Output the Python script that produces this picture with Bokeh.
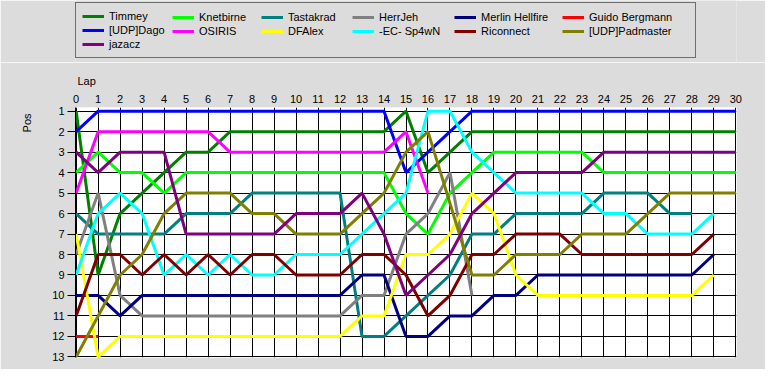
from bokeh.plotting import figure
from bokeh.models import Range1d, FixedTicker, Legend, LegendItem, Title
from bokeh.layouts import column
from bokeh.embed import file_html
from bokeh.resources import INLINE

laps = list(range(31))
pos_ticks = list(range(1, 14))

drivers = ["Timmey", "Knetbirne", "Tastakrad", "HerrJeh", "Merlin Hellfire", "Guido Bergmann",
           "[UDP]Dago", "OSIRIS", "DFAlex", "-EC- Sp4wN", "Riconnect", "[UDP]Padmaster", "jazacz"]
colors = ["#008000", "#00ff00", "#008080", "#808080", "#000080", "#ff0000",
          "#0000ff", "#ff00ff", "#ffff00", "#00ffff", "#800000", "#808000", "#800080"]

timmey = [1, 9, 6, 5, 4, 3, 3, 2, 2, 2, 2, 2, 2, 2, 2, 1, 4, 3, 2, 2, 2, 2, 2, 2, 2, 2, 2, 2, 2, 2, 2]
knetbirne = [4, 3, 4, 4, 5, 4, 4, 4, 4, 4, 4, 4, 4, 4, 4, 6, 7, 5, 4, 3, 3, 3, 3, 3, 4, 4, 4, 4, 4, 4, 4]
tastakrad = [6, 7, 7, 7, 7, 6, 6, 6, 5, 5, 5, 5, 5, 12, 12, 11, 10, 9, 7, 7, 6, 6, 6, 6, 5, 5, 5, 6, 6]
herrjeh = [8, 5, 10, 11, 11, 11, 11, 11, 11, 11, 11, 11, 11, 10, 10, 7, 6, 4, 10]
merlin = [10, 10, 11, 10, 10, 10, 10, 10, 10, 10, 10, 10, 10, 9, 9, 12, 12, 11, 11, 10, 10, 9, 9, 9, 9, 9, 9, 9, 9, 8]
guido = [12, 12]
dago = [2, 1, 1, 1, 1, 1, 1, 1, 1, 1, 1, 1, 1, 1, 1, 4, 3, 2, 1, 1, 1, 1, 1, 1, 1, 1, 1, 1, 1, 1, 1]
osiris = [5, 2, 2, 2, 2, 2, 2, 3, 3, 3, 3, 3, 3, 3, 3, 2, 5]
dfalex = [7, 13, 12, 12, 12, 12, 12, 12, 12, 12, 12, 12, 12, 11, 11, 8, 8, 7, 5, 6, 9, 10, 10, 10, 10, 10, 10, 10, 10, 9]
sp4wn = [9, 6, 5, 6, 9, 8, 9, 8, 9, 9, 8, 8, 8, 7, 6, 5, 1, 1, 3, 4, 5, 5, 5, 5, 6, 6, 7, 7, 7, 6]
riconnect = [11, 8, 8, 9, 8, 9, 8, 9, 8, 8, 9, 9, 9, 8, 8, 9, 11, 10, 8, 8, 7, 7, 7, 8, 8, 8, 8, 8, 8, 7]
padmaster = [13, 11, 9, 8, 6, 5, 5, 5, 6, 6, 7, 7, 7, 6, 5, 3, 2, 5.5, 9, 9, 8, 8, 8, 7, 7, 7, 6, 5, 5, 5, 5]
jazacz = [3, 4, 3, 3, 3, 7, 7, 7, 7, 7, 6, 6, 6, 5, 7, 10, 9, 8, 6, 5, 4, 4, 4, 4, 3, 3, 3, 3, 3, 3, 3]

series = [timmey, knetbirne, tastakrad, herrjeh, merlin, guido,
          dago, osiris, dfalex, sp4wn, riconnect, padmaster, jazacz]

BG = "#dcdcdc"
FONT = "Liberation Sans"
LW = 3
FRAME_LEFT = 75   # figure x of the plotting frame (shared by both stacked figures)

# ---------------- legend strip (its own small figure, same frame alignment) ----------------
LEG_H = 62
pl = figure(width=765, height=LEG_H, output_backend="svg", toolbar_location=None, title=None,
            x_range=Range1d(100, 101), y_range=Range1d(100, 101),
            x_axis_type=None, y_axis_type=None, min_border=0)
pl.border_fill_color = BG
pl.background_fill_color = BG
pl.outline_line_color = None

# legend proxies: one-point lines (draw nothing themselves, only give the legend its swatches)
proxies = [pl.line(x=laps[:1], y=ys[:1], line_color=c, line_width=LW)
           for c, ys in zip(colors, series)]

columns = [[0, 6, 12], [1, 7], [2, 8], [3, 9], [4, 10], [5, 11]]
swatch_x = [89, 186, 275, 366, 468, 576]   # page x of each column's swatch
PAD = 6
ROW_H = 14
box_top = 12.3 - 8                          # figure y of legend box top
for k, (idxs, sx) in enumerate(zip(columns, swatch_x)):
    items = [LegendItem(label=drivers[i], renderers=[proxies[i]]) for i in idxs]
    h = 2 * PAD + ROW_H * len(idxs)
    vy = LEG_H - (box_top + h)
    if k > 0:
        vy += 6
    leg = Legend(items=items, location=(sx - PAD - 8 - FRAME_LEFT, vy),
                 orientation="vertical", glyph_width=22, glyph_height=ROW_H,
                 label_height=ROW_H, label_standoff=5, spacing=0, padding=PAD, margin=0,
                 label_text_font=FONT, label_text_font_size="11px", label_text_color="black")
    if k == 0:
        leg.border_line_color = "black"
        leg.border_line_width = 1
        leg.background_fill_color = BG
        leg.background_fill_alpha = 1
        leg.label_width = 702 - (sx - PAD) - 2 * PAD - 22 - 5
    else:
        leg.border_line_color = None
        leg.background_fill_alpha = 0
    pl.add_layout(leg, "center")

# ---------------- main chart ----------------
MAIN_H = 369 - LEG_H
top_off = 8 + LEG_H
p = figure(width=765, height=MAIN_H, output_backend="svg", toolbar_location=None, title=None,
           x_range=Range1d(-0.03, 30.03), y_range=Range1d(13.03, 0.82),
           x_axis_location="above",
           min_border_left=FRAME_LEFT, min_border_right=29,
           min_border_top=115 - top_off, min_border_bottom=MAIN_H - (365 - top_off))
p.border_fill_color = BG
p.background_fill_color = "white"
p.outline_line_color = None

p.xaxis.ticker = FixedTicker(ticks=laps)
p.yaxis.ticker = FixedTicker(ticks=pos_ticks)
p.xgrid.ticker = FixedTicker(ticks=laps)
p.ygrid.ticker = FixedTicker(ticks=pos_ticks)
p.grid.grid_line_color = "black"
p.grid.grid_line_alpha = 1
p.grid.grid_line_width = 1

for ax in (p.xaxis, p.yaxis):
    ax.major_label_text_font = FONT
    ax.major_label_text_font_size = "11px"
    ax.major_label_text_color = "black"
    ax.minor_tick_line_color = None
    ax.major_tick_in = 0

p.xaxis.axis_line_color = None
p.xaxis.major_tick_out = 0
p.xaxis.major_label_standoff = 5
p.yaxis.axis_line_color = "black"
p.yaxis.major_tick_line_color = "black"
p.yaxis.major_tick_out = 8
p.yaxis.major_label_standoff = 3

for name, col, ys in zip(drivers, colors, series):
    p.line(laps[:len(ys)], ys, line_color=col, line_width=LW)

p.add_layout(Title(text="Lap", align="left", offset=2, standoff=9,
                   text_font=FONT, text_font_size="11px", text_font_style="normal",
                   text_color="black"), "above")
p.add_layout(Title(text="Pos", align="right", offset=6, standoff=33,
                   text_font=FONT, text_font_size="11px", text_font_style="normal",
                   text_color="black"), "left")

html = file_html(column(pl, p), INLINE)
html = html.replace("<body>", '<body style="background-color:%s;">' % BG, 1)
open("out.html", "w").write(html)
